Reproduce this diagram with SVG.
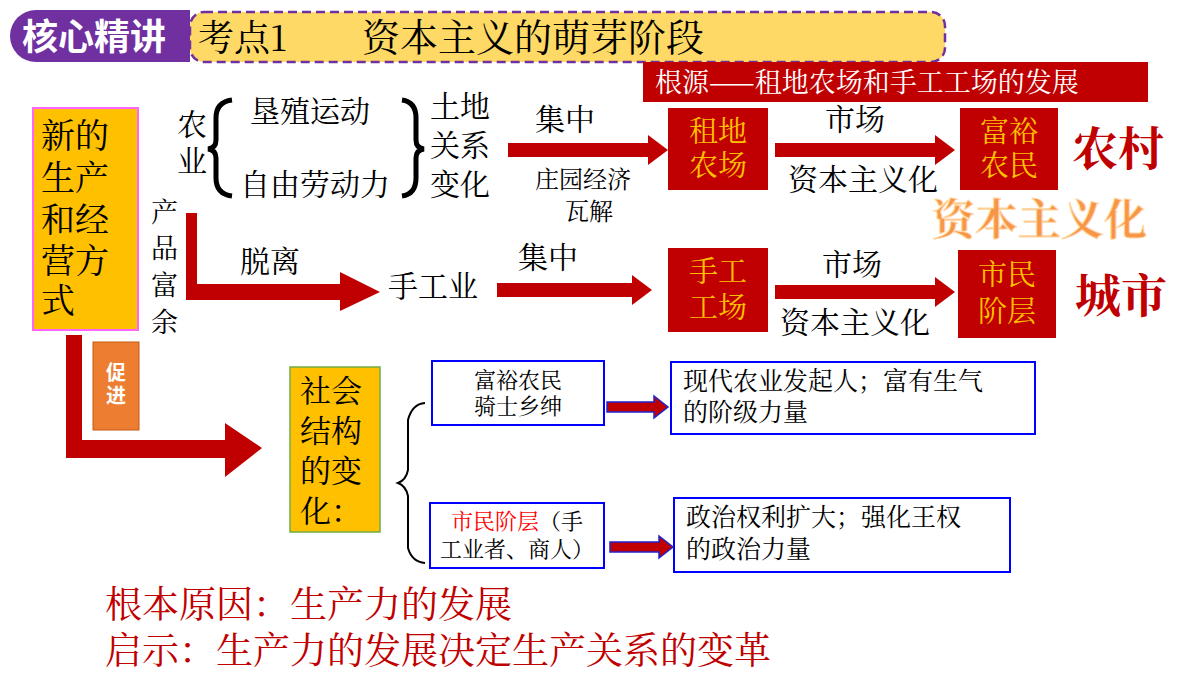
<svg xmlns="http://www.w3.org/2000/svg" width="1200" height="675" viewBox="0 0 1200 675">
<style>
text{font-family:"Noto Serif CJK SC","Noto Sans CJK SC",sans-serif;fill:#000}
.t28{font-size:30px}.t24{font-size:24px}
.rb{fill:#C00000}
.rbt{font-size:29px;fill:#FFC000}
.big{font-size:46px;font-weight:bold;fill:#C00000}
.bx{fill:#fff;stroke:#0000FF;stroke-width:2}
.ar{fill:#C00000}
.sa{fill:#C00000;stroke:#2222CC;stroke-width:1.5}
</style>
<rect width="1200" height="675" fill="#fff"/>
<g id="header">
<rect x="190" y="12" width="755" height="50" rx="14" fill="#FFD966" stroke="#7030A0" stroke-width="2.5" stroke-dasharray="9,5"/>
<path d="M36 10H190V62H36A26 26 0 0 1 36 10Z" fill="#7030A0"/>
<text x="22" y="50" style="font-size:36px;font-weight:bold;fill:#fff;font-family:'Noto Sans CJK SC',sans-serif">核心精讲</text>
<text x="198" y="51" style="font-size:36px">考点1</text>
<text x="362" y="51" style="font-size:38px">资本主义的萌芽阶段</text>
</g>
<g id="banner"><rect x="643" y="62" width="505" height="40" class="rb"/><text x="655" y="92" style="font-size:27px;fill:#fff">根源——租地农场和手工工场的发展</text></g>
<g id="new-mode"><rect x="33" y="108" width="105" height="222" fill="#FFC000" stroke="#FF66FF" stroke-width="2"/>
<text style="font-size:34px"><tspan x="41" y="148">新的</tspan><tspan x="41" y="190">生产</tspan><tspan x="41" y="232">和经</tspan><tspan x="41" y="273">营方</tspan><tspan x="41" y="313">式</tspan></text></g>
<g id="agri"><text class="t28"><tspan x="177" y="135">农</tspan><tspan x="177" y="172">业</tspan></text>
<path d="M232 100Q216 102 216 118V140Q216 148 208 149Q216 150 216 158V178Q216 194 232 196" fill="none" stroke="#000" stroke-width="5"/>
<text x="250" y="122" class="t28">垦殖运动</text><text x="240" y="195" class="t28">自由劳动力</text>
<path d="M402 100Q416 102 416 118V140Q416 148 424 149Q416 150 416 158V178Q416 194 402 196" fill="none" stroke="#000" stroke-width="5"/>
<text class="t28"><tspan x="430" y="117">土地</tspan><tspan x="430" y="156">关系</tspan><tspan x="430" y="195">变化</tspan></text>
<text x="535" y="130" class="t28">集中</text>
<text x="535" y="188" class="t24">庄园经济</text><text x="565" y="220" class="t24">瓦解</text></g>
<g id="surplus"><text style="font-size:27px"><tspan x="151" y="222">产</tspan><tspan x="151" y="258">品</tspan><tspan x="151" y="295">富</tspan><tspan x="151" y="332">余</tspan></text>
<text x="240" y="272" class="t28">脱离</text><text x="388" y="297" class="t28">手工业</text><text x="518" y="268" class="t28">集中</text></g>
<g id="farm"><rect x="668" y="108" width="100" height="82" class="rb"/><text class="rbt"><tspan x="689" y="142">租地</tspan><tspan x="689" y="176">农场</tspan></text></g>
<g id="rich"><rect x="960" y="108" width="98" height="82" class="rb"/><text class="rbt"><tspan x="980" y="142">富裕</tspan><tspan x="980" y="176">农民</tspan></text></g>
<g id="workshop"><rect x="668" y="248" width="100" height="84" class="rb"/><text class="rbt"><tspan x="689" y="282">手工</tspan><tspan x="689" y="318">工场</tspan></text></g>
<g id="citizen"><rect x="958" y="250" width="98" height="88" class="rb"/><text class="rbt"><tspan x="978" y="285">市民</tspan><tspan x="978" y="322">阶层</tspan></text></g>
<g id="labels"><text x="825" y="130" class="t28">市场</text><text x="788" y="190" class="t28">资本主义化</text>
<text x="822" y="275" class="t28">市场</text><text x="780" y="333" class="t28">资本主义化</text>
<text x="1072" y="165" class="big">农村</text><text x="1075" y="312" class="big">城市</text>
<text x="932" y="235" style="font-size:43px;font-weight:bold;fill:#F79646;stroke:#FFD8A8;stroke-width:1">资本主义化</text></g>
<g id="promote"><rect x="93" y="342" width="46" height="88" fill="#ED7D31" stroke="#C55A11"/><text style="font-size:20px;font-weight:bold;fill:#fff;font-family:'Noto Sans CJK SC',sans-serif"><tspan x="106" y="380">促</tspan><tspan x="106" y="403">进</tspan></text></g>
<g id="society"><rect x="290" y="367" width="90" height="165" fill="#FFC000" stroke="#70AD47" stroke-width="1.5"/>
<text style="font-size:31px"><tspan x="300" y="402">社会</tspan><tspan x="300" y="442">结构</tspan><tspan x="300" y="482">的变</tspan><tspan x="300" y="522">化：</tspan></text>
<path d="M425 403Q412 404 408 420V470Q406 480 398 483Q406 486 408 496V548Q412 562 425 563" fill="none" stroke="#000" stroke-width="2"/></g>
<g id="gentry"><rect x="432" y="361" width="172" height="64" class="bx"/><text text-anchor="middle" style="font-size:22px"><tspan x="518" y="388">富裕农民</tspan><tspan x="518" y="414">骑士乡绅</tspan></text></g>
<g id="gentry-desc"><rect x="671" y="362" width="364" height="72" class="bx"/><text style="font-size:25px"><tspan x="683" y="390">现代农业发起人；富有生气</tspan><tspan x="683" y="421">的阶级力量</tspan></text></g>
<g id="burgher"><rect x="430" y="503" width="174" height="65" class="bx"/><text text-anchor="middle" style="font-size:22px"><tspan x="517" y="529"><tspan style="fill:#FF0000">市民阶层</tspan>（手</tspan><tspan x="517" y="557">工业者、商人）</tspan></text></g>
<g id="burgher-desc"><rect x="674" y="498" width="336" height="74" class="bx"/><text style="font-size:25px"><tspan x="686" y="526">政治权利扩大；强化王权</tspan><tspan x="686" y="558">的政治力量</tspan></text></g>
<g id="connectors">
<polygon class="ar" points="508,143 648,143 648,135 668,150 648,165 648,157 508,157"/>
<polygon class="ar" points="775,143 935,143 935,135 955,150 935,165 935,157 775,157"/>
<polygon class="ar" points="497,283 632,283 632,275 652,290 632,305 632,297 497,297"/>
<polygon class="ar" points="775,285 935,285 935,277 955,292 935,307 935,299 775,299"/>
<polygon class="ar" points="186,213 197,213 197,284 340,284 340,272 380,292 340,311 340,300 186,300"/>
<polygon class="ar" points="66,335 82,335 82,440 225,440 225,423 262,448 225,477 225,458 66,458"/>
<polygon class="sa" points="607,402 654,402 654,396 668,407 654,418 654,412 607,412"/>
<polygon class="sa" points="610,542 659,542 659,536 673,547 659,558 659,552 610,552"/>
</g>
<g id="footer"><text style="font-size:37px;fill:#C00000"><tspan x="105" y="618">根本原因：生产力的发展</tspan><tspan x="105" y="664">启示：生产力的发展决定生产关系的变革</tspan></text></g>
</svg>
